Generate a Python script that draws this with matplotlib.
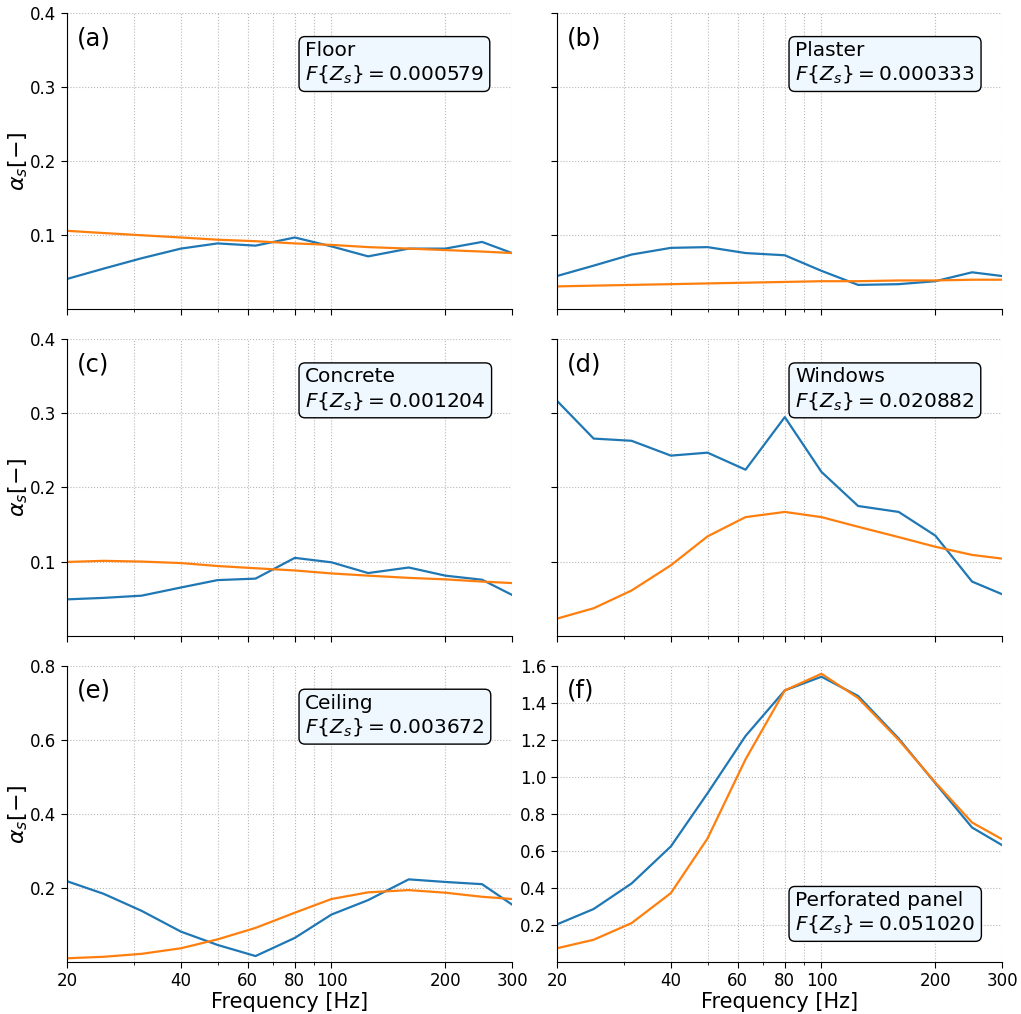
import numpy as np
import matplotlib
matplotlib.use('Agg')
import matplotlib.pyplot as plt
from matplotlib.ticker import FixedLocator, NullFormatter

# third-octave band centres used in the plot (last one sits on the axis edge)
freqs = [20, 25, 31.5, 40, 50, 63, 80, 100, 125, 160, 200, 250, 300]

# blue = measured, orange = fitted
floor_meas = [0.041, 0.055, 0.069, 0.082, 0.089, 0.086, 0.097, 0.085, 0.0715, 0.082, 0.082, 0.091, 0.076]
floor_fit = [0.106, 0.103, 0.100, 0.097, 0.094, 0.092, 0.089, 0.087, 0.084, 0.082, 0.080, 0.078, 0.076]
plaster_meas = [0.045, 0.059, 0.074, 0.083, 0.084, 0.076, 0.073, 0.052, 0.033, 0.034, 0.038, 0.050, 0.045]
plaster_fit = [0.031, 0.032, 0.033, 0.034, 0.035, 0.036, 0.037, 0.038, 0.038, 0.039, 0.039, 0.040, 0.040]
concrete_meas = [0.049, 0.051, 0.054, 0.065, 0.075, 0.077, 0.105, 0.099, 0.0845, 0.092, 0.081, 0.0755, 0.055]
concrete_fit = [0.0995, 0.101, 0.100, 0.098, 0.094, 0.091, 0.088, 0.084, 0.081, 0.078, 0.076, 0.073, 0.071]
windows_meas = [0.317, 0.266, 0.263, 0.243, 0.247, 0.224, 0.295, 0.221, 0.175, 0.167, 0.135, 0.073, 0.056]
windows_fit = [0.023, 0.037, 0.061, 0.095, 0.134, 0.160, 0.167, 0.160, 0.147, 0.133, 0.120, 0.109, 0.104]
ceiling_meas = [0.218, 0.184, 0.138, 0.082, 0.046, 0.016, 0.065, 0.128, 0.167, 0.223, 0.216, 0.210, 0.155]
ceiling_fit = [0.010, 0.014, 0.022, 0.037, 0.061, 0.092, 0.133, 0.170, 0.188, 0.194, 0.187, 0.176, 0.170]
panel_meas = [0.203, 0.286, 0.424, 0.624, 0.911, 1.22, 1.466, 1.540, 1.436, 1.206, 0.965, 0.726, 0.631]
panel_fit = [0.074, 0.120, 0.210, 0.372, 0.667, 1.094, 1.466, 1.556, 1.425, 1.199, 0.969, 0.753, 0.663]

materials = ['Floor', 'Plaster', 'Concrete', 'Windows', 'Ceiling', 'Perforated panel']
errors = ['0.000579', '0.000333', '0.001204', '0.020882', '0.003672', '0.051020']
letters = ['(a)', '(b)', '(c)', '(d)', '(e)', '(f)']
measured = [floor_meas, plaster_meas, concrete_meas, windows_meas, ceiling_meas, panel_meas]
fitted = [floor_fit, plaster_fit, concrete_fit, windows_fit, ceiling_fit, panel_fit]

major_x = [20, 40, 60, 80, 100, 200, 300]
minor_x = [30, 50, 70, 90]
y_small = [0.1, 0.2, 0.3, 0.4]
y_ceiling = [0.2, 0.4, 0.6, 0.8]
y_panel = [0.2, 0.4, 0.6, 0.8, 1.0, 1.2, 1.4, 1.6]

fig = plt.figure(figsize=(10.21, 10.14), dpi=100)
axs = fig.subplots(3, 2)
fig.subplots_adjust(left=0.0656, right=0.9814, top=0.9872, bottom=0.0513,
                    wspace=0.101, hspace=0.101)

for i, ax in enumerate(axs.flat):
    row, col = divmod(i, 2)
    ax.plot(freqs, measured[i], color='#1f77b4', lw=1.6)
    ax.plot(freqs, fitted[i], color='#ff7f0e', lw=1.6)
    ax.set_xscale('log')
    ax.set_xlim(20, 300)
    ax.xaxis.set_major_locator(FixedLocator(major_x))
    ax.xaxis.set_minor_locator(FixedLocator(minor_x))
    ax.xaxis.set_minor_formatter(NullFormatter())
    ax.set_xticklabels([str(v) for v in major_x])
    if row < 2:
        ax.set_ylim(0, 0.4)
        ax.set_yticks(y_small)
    elif col == 0:
        ax.set_ylim(0, 0.8)
        ax.set_yticks(y_ceiling)
    else:
        ax.set_ylim(0, 1.6)
        ax.set_yticks(y_panel)
    if row < 2 and col == 1:
        ax.set_yticklabels([])
    if row < 2:
        ax.tick_params(axis='x', which='both', labelbottom=False)
    else:
        ax.set_xlabel('Frequency [Hz]', fontsize=15, labelpad=1)
    if col == 0:
        ax.set_ylabel(r'$\alpha_s[-]$', fontsize=16, labelpad=0)
    ax.tick_params(axis='both', which='major', labelsize=12, length=4)
    ax.tick_params(axis='x', which='minor', length=2.5)
    ax.grid(True, which='both', linestyle=':', color='#b8b8b8', lw=0.8)
    ax.spines['top'].set_visible(False)
    ax.spines['right'].set_visible(False)

    ax.text(0.022, 0.955, letters[i], transform=ax.transAxes, fontsize=17.5, va='top')
    label = materials[i] + '\n' + r'$F\{Z_s\} = ' + errors[i] + '$'
    box = dict(boxstyle='round', facecolor='aliceblue', edgecolor='black')
    if i == 5:
        ax.text(0.535, 0.09, label, transform=ax.transAxes, fontsize=14.5,
                va='bottom', bbox=box)
    else:
        ax.text(0.535, 0.905, label, transform=ax.transAxes, fontsize=14.5,
                va='top', bbox=box)

fig.savefig('out.png', dpi=100)
